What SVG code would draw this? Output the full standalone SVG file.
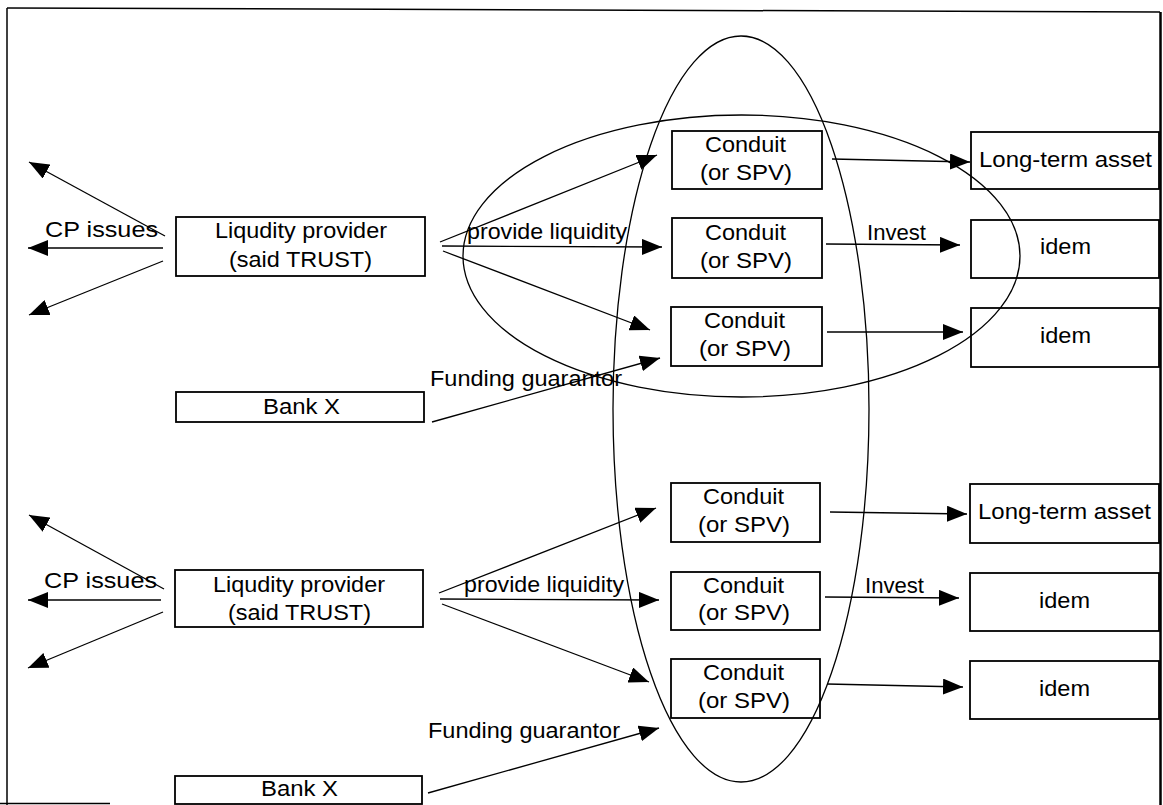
<svg xmlns="http://www.w3.org/2000/svg" width="1163" height="805" viewBox="0 0 1163 805">
<defs>
<marker id="ah" viewBox="0 0 20 16" refX="20" refY="8" markerWidth="20" markerHeight="16" markerUnits="userSpaceOnUse" orient="auto">
<path d="M0,0 L20,8 L0,16 Z" fill="#000"/>
</marker>
</defs>
<style>
.box{fill:none;stroke:#000;stroke-width:1.8}
.t{font-family:"Liberation Sans",Arial,sans-serif;font-size:22px;fill:#000}
.c{fill:none;stroke:#000;stroke-width:1.3;marker-end:url(#ah)}
.e{fill:none;stroke:#000;stroke-width:1.3}
.f{fill:none;stroke:#000}
</style>
<rect width="1163" height="805" fill="#fff"/>
<g id="frame">
<line class="f" x1="7" y1="8" x2="1160" y2="12" stroke-width="1.5"/>
<line class="f" x1="7" y1="8" x2="7" y2="805" stroke-width="1.5"/>
<line class="f" x1="1160.5" y1="12" x2="1160.5" y2="805" stroke-width="2.5"/>
<line class="f" x1="0" y1="803.5" x2="110" y2="803.5" stroke-width="1.5"/>
</g>
<g id="ellipses">
<ellipse class="e" cx="741.5" cy="256" rx="278.5" ry="141"/>
<ellipse class="e" cx="741" cy="409" rx="128" ry="373"/>
</g>
<g id="connectors">
<line class="c" x1="165" y1="236" x2="29" y2="162"/>
<line class="c" x1="163" y1="248" x2="28" y2="248"/>
<line class="c" x1="163" y1="261" x2="29" y2="315"/>
<line class="c" x1="440" y1="242" x2="657" y2="155"/>
<line class="c" x1="442" y1="246" x2="662" y2="247"/>
<line class="c" x1="443" y1="251" x2="650" y2="330"/>
<line class="c" x1="432" y1="422" x2="660" y2="358"/>
<line class="c" x1="832" y1="159" x2="970" y2="162"/>
<line class="c" x1="826" y1="244" x2="960" y2="245"/>
<line class="c" x1="827" y1="332" x2="963" y2="332"/>
<line class="c" x1="164" y1="589" x2="29" y2="515"/>
<line class="c" x1="161" y1="600" x2="28" y2="600"/>
<line class="c" x1="163" y1="612" x2="28" y2="668"/>
<line class="c" x1="439" y1="593" x2="656" y2="508"/>
<line class="c" x1="440" y1="599" x2="659" y2="600"/>
<line class="c" x1="442" y1="604" x2="649" y2="682"/>
<line class="c" x1="428" y1="793" x2="659" y2="728"/>
<line class="c" x1="830" y1="512" x2="967" y2="514"/>
<line class="c" x1="825" y1="597" x2="959" y2="598"/>
<line class="c" x1="827" y1="684" x2="963" y2="687"/>
</g>
<g id="labels">
<text class="t" x="45" y="237" textLength="113" lengthAdjust="spacingAndGlyphs">CP issues</text>
<text class="t" x="467" y="239" textLength="160" lengthAdjust="spacingAndGlyphs">provide liquidity</text>
<text class="t" x="430" y="386" textLength="192" lengthAdjust="spacingAndGlyphs">Funding guarantor</text>
<text class="t" x="867" y="240" textLength="59" lengthAdjust="spacingAndGlyphs">Invest</text>
<text class="t" x="44" y="588" textLength="113" lengthAdjust="spacingAndGlyphs">CP issues</text>
<text class="t" x="464" y="592" textLength="160" lengthAdjust="spacingAndGlyphs">provide liquidity</text>
<text class="t" x="428" y="738" textLength="192" lengthAdjust="spacingAndGlyphs">Funding guarantor</text>
<text class="t" x="865" y="593" textLength="59" lengthAdjust="spacingAndGlyphs">Invest</text>
</g>
<g id="lp1">
<rect class="box" x="176" y="217" width="249" height="59"/>
<text class="t" x="215" y="238" textLength="172" lengthAdjust="spacingAndGlyphs">Liqudity provider</text>
<text class="t" x="229" y="267" textLength="143" lengthAdjust="spacingAndGlyphs">(said TRUST)</text>
</g>
<g id="bank1">
<rect class="box" x="176" y="392" width="248" height="30"/>
<text class="t" x="263" y="414" textLength="77" lengthAdjust="spacingAndGlyphs">Bank X</text>
</g>
<g id="c1a">
<rect class="box" x="672" y="131" width="150" height="58"/>
<text class="t" x="705" y="152" textLength="81" lengthAdjust="spacingAndGlyphs">Conduit</text>
<text class="t" x="700" y="180" textLength="92" lengthAdjust="spacingAndGlyphs">(or SPV)</text>
</g>
<g id="c1b">
<rect class="box" x="672" y="218" width="150" height="60"/>
<text class="t" x="705" y="240" textLength="81" lengthAdjust="spacingAndGlyphs">Conduit</text>
<text class="t" x="700" y="268" textLength="92" lengthAdjust="spacingAndGlyphs">(or SPV)</text>
</g>
<g id="c1c">
<rect class="box" x="671" y="307" width="151" height="59"/>
<text class="t" x="704" y="328" textLength="81" lengthAdjust="spacingAndGlyphs">Conduit</text>
<text class="t" x="699" y="356" textLength="92" lengthAdjust="spacingAndGlyphs">(or SPV)</text>
</g>
<g id="a1a">
<rect class="box" x="971" y="132" width="188" height="57"/>
<text class="t" x="979" y="167" textLength="173" lengthAdjust="spacingAndGlyphs">Long-term asset</text>
</g>
<g id="a1b">
<rect class="box" x="971" y="220" width="188" height="58"/>
<text class="t" x="1040" y="254" textLength="51" lengthAdjust="spacingAndGlyphs">idem</text>
</g>
<g id="a1c">
<rect class="box" x="971" y="308" width="188" height="59"/>
<text class="t" x="1040" y="343" textLength="51" lengthAdjust="spacingAndGlyphs">idem</text>
</g>
<g id="lp2">
<rect class="box" x="175" y="570" width="248" height="57"/>
<text class="t" x="213" y="592" textLength="172" lengthAdjust="spacingAndGlyphs">Liqudity provider</text>
<text class="t" x="228" y="620" textLength="143" lengthAdjust="spacingAndGlyphs">(said TRUST)</text>
</g>
<g id="bank2">
<rect class="box" x="175" y="776" width="247" height="28"/>
<text class="t" x="261" y="796" textLength="77" lengthAdjust="spacingAndGlyphs">Bank X</text>
</g>
<g id="c2a">
<rect class="box" x="671" y="483" width="149" height="59"/>
<text class="t" x="703" y="504" textLength="81" lengthAdjust="spacingAndGlyphs">Conduit</text>
<text class="t" x="698" y="532" textLength="92" lengthAdjust="spacingAndGlyphs">(or SPV)</text>
</g>
<g id="c2b">
<rect class="box" x="671" y="572" width="149" height="58"/>
<text class="t" x="703" y="593" textLength="81" lengthAdjust="spacingAndGlyphs">Conduit</text>
<text class="t" x="698" y="620" textLength="92" lengthAdjust="spacingAndGlyphs">(or SPV)</text>
</g>
<g id="c2c">
<rect class="box" x="671" y="659" width="149" height="59"/>
<text class="t" x="703" y="680" textLength="81" lengthAdjust="spacingAndGlyphs">Conduit</text>
<text class="t" x="698" y="708" textLength="92" lengthAdjust="spacingAndGlyphs">(or SPV)</text>
</g>
<g id="a2a">
<rect class="box" x="970" y="484" width="189" height="59"/>
<text class="t" x="978" y="519" textLength="173" lengthAdjust="spacingAndGlyphs">Long-term asset</text>
</g>
<g id="a2b">
<rect class="box" x="970" y="573" width="189" height="58"/>
<text class="t" x="1039" y="608" textLength="51" lengthAdjust="spacingAndGlyphs">idem</text>
</g>
<g id="a2c">
<rect class="box" x="970" y="661" width="189" height="58"/>
<text class="t" x="1039" y="696" textLength="51" lengthAdjust="spacingAndGlyphs">idem</text>
</g>
</svg>
